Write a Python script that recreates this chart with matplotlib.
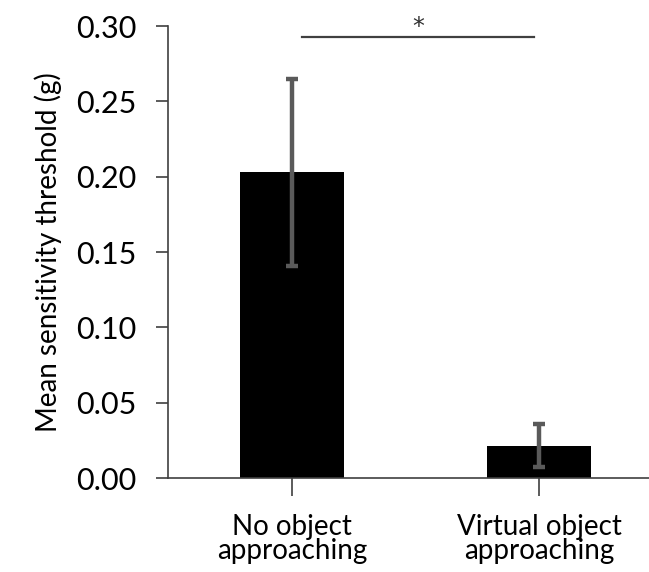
import matplotlib
matplotlib.use("Agg")
import matplotlib.pyplot as plt

# Data
categories = ["No object\napproaching", "Virtual object\napproaching"]
means = [0.203, 0.0215]
errors = [0.062, 0.0143]
sig_pair = (0.04, 0.98)   # x-extent of the significance bar (category units)
sig_level = 0.293
sig_label = "*"

plt.rcParams['font.family'] = ['Lato', 'DejaVu Sans']

fig = plt.figure(figsize=(6.49, 5.72), dpi=100)
ax = fig.add_axes([0.2589, 0.1643, 0.7627, 0.7902])

x = list(range(len(categories)))
ax.bar(x, means, width=0.42, color='black', zorder=2)
ax.errorbar(x, means, yerr=errors, fmt='none', ecolor='#5a5a5a',
            elinewidth=3.2, capsize=4.5, capthick=3.2, zorder=3)

# significance bar
ax.plot(sig_pair, [sig_level, sig_level], color='#404040', lw=1.6,
        clip_on=False)
ax.text(sum(sig_pair) / 2, sig_level + 0.0015, sig_label, ha='center',
        va='baseline', fontsize=17, color='#303030', family='DejaVu Sans')

ax.set_xlim(-0.5, 1.5)
ax.set_ylim(0, 0.30)
ax.set_yticks([0.0, 0.05, 0.10, 0.15, 0.20, 0.25, 0.30])
ax.set_yticklabels(["%.2f" % v for v in ax.get_yticks()], fontsize=22)
ax.set_xticks(x)
ax.set_xticklabels(categories, fontsize=20, linespacing=0.92)

for s in ['top', 'right']:
    ax.spines[s].set_visible(False)
for s in ['left', 'bottom']:
    ax.spines[s].set_color('#404040')
    ax.spines[s].set_linewidth(1.2)

ax.tick_params(axis='y', length=9, width=1.2, color='#404040', pad=14)
ax.tick_params(axis='x', length=13, width=1.2, color='#404040', pad=13)

ax.set_ylabel("Mean sensitivity threshold (g)", fontsize=20, labelpad=10)

fig.savefig("out.png", dpi=100)
